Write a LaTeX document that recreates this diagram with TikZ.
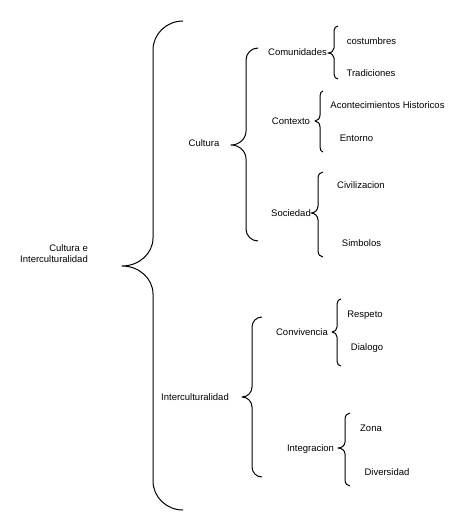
\documentclass[tikz,border=0pt]{standalone}
\usepackage{fontspec}
\setmainfont{Liberation Sans}
\newcommand\mybrace[8]{% tipx tipy vx endx top bottom rEnd rMid
  \draw[brace] (#4,#5) .. controls ({#4-0.552*(#4-#3)},#5) and (#3,{#5+#7-0.552*#7}) .. ({#3},{#5+#7})
    -- ({#3},{#2-#8})
    .. controls (#3,{#2-#8+0.552*#8}) and ({#1+0.552*(#3-#1)},#2) .. (#1,#2)
    .. controls ({#1+0.552*(#3-#1)},#2) and (#3,{#2+#8-0.552*#8}) .. ({#3},{#2+#8})
    -- ({#3},{#6-#7})
    .. controls (#3,{#6-#7+0.552*#7}) and ({#4-0.552*(#4-#3)},#6) .. (#4,#6);}
\begin{document}
\begin{tikzpicture}[x=1pt,y=-1pt,
  lbl/.style={inner sep=0pt,text height=6.8pt,text depth=0pt,font=\fontsize{9.5}{11}\selectfont},
  brace/.style={line width=1pt,black,line join=round}]
\useasboundingbox[fill=white] (0,0) rectangle (474,532);
% braces
\mybrace{122}{266}{153}{183}{21}{510}{29}{28}
\mybrace{231}{145}{246}{258}{48}{241}{12}{14}
\mybrace{328}{53}{334}{338}{26}{79}{5}{5}
\mybrace{315}{121}{320}{323}{91}{152}{5}{6}
\mybrace{311}{213}{318}{323}{172}{257}{6}{7}
\mybrace{242}{397}{252}{262}{317}{477}{10}{10}
\mybrace{332}{332}{337}{341}{299}{366}{5}{5}
\mybrace{338}{448}{345}{350}{413}{486}{6}{6}
% labels
\node[lbl,align=right,anchor=base east,text height=,text depth=] (root) at (88,262.5) {Cultura e\\Interculturalidad};
\node[lbl] (cul) at (204,143) {Cultura};
\node[lbl] (com) at (297.5,52) {Comunidades};
\node[lbl] (cos) at (371.5,41) {costumbres};
\node[lbl] (tra) at (371,73) {Tradiciones};
\node[lbl] (ctx) at (291,121) {Contexto};
\node[lbl] (aco) at (387.5,105) {Acontecimientos Historicos};
\node[lbl] (ent) at (356.5,138) {Entorno};
\node[lbl] (soc) at (291,213) {Sociedad};
\node[lbl] (civ) at (361,185) {Civilizacion};
\node[lbl] (sim) at (361.5,243) {Simbolos};
\node[lbl] (int) at (195,397) {Interculturalidad};
\node[lbl] (con) at (302,332) {Convivencia};
\node[lbl] (res) at (365,314) {Respeto};
\node[lbl] (dia) at (367,347) {Dialogo};
\node[lbl] (itg) at (310.5,448) {Integracion};
\node[lbl] (zon) at (371,428) {Zona};
\node[lbl] (div) at (387,472) {Diversidad};
\end{tikzpicture}
\end{document}
